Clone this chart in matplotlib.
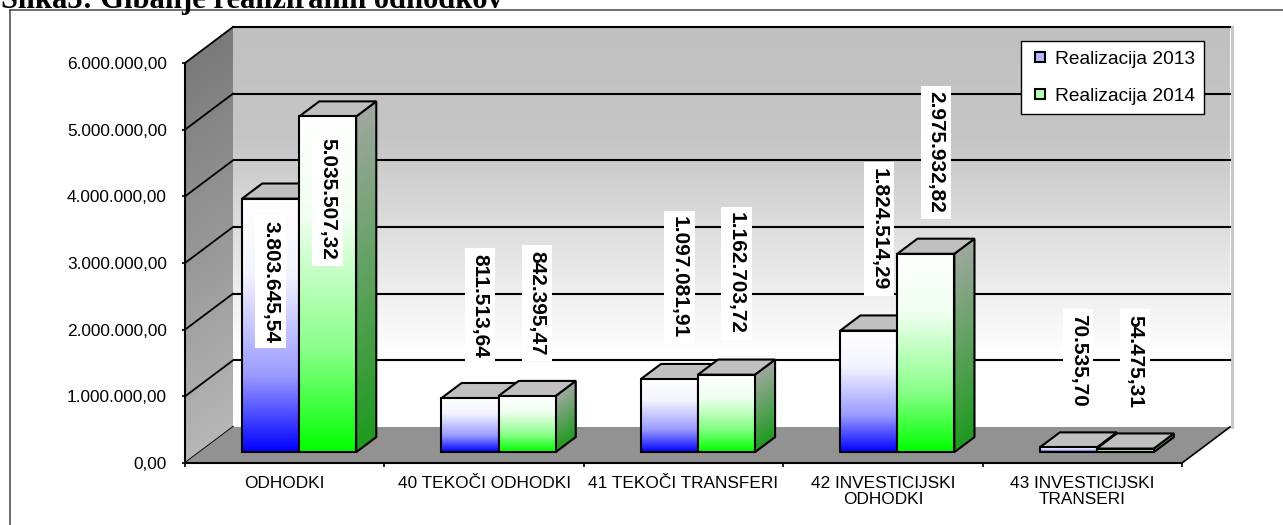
import matplotlib
matplotlib.use('Agg')
import matplotlib.pyplot as plt
import matplotlib.transforms as mtransforms
from matplotlib.patches import Polygon
from matplotlib.lines import Line2D
from matplotlib.colors import LinearSegmentedColormap
from matplotlib.ticker import FuncFormatter
import numpy as np

categories = ['ODHODKI', '40 TEKOČI ODHODKI', '41 TEKOČI TRANSFERI',
              '42 INVESTICIJSKI\nODHODKI', '43 INVESTICIJSKI\nTRANSERI']
real_2013 = [3803645.54, 811513.64, 1097081.91, 1824514.29, 70535.70]
real_2014 = [5035507.32, 842395.47, 1162703.72, 2975932.82, 54475.31]
series_names = ['Realizacija 2013', 'Realizacija 2014']
y_ticks = [0, 1000000, 2000000, 3000000, 4000000, 5000000, 6000000]

W, H = 1283, 525
DX, DY = 48, 36          # depth of the 3d box, pixels
BW = 0.286               # bar width, category units
D_FRONT, D_BACK = 0.3, 0.72

plt.rcParams['font.family'] = 'Liberation Sans'

fig = plt.figure(figsize=(W / 100, H / 100), dpi=100)
ax = fig.add_axes([185 / W, 62 / H, 997 / W, 400 / H])
ax.set_xlim(-0.5, 4.5)
ax.set_ylim(0, 6000000)
ax.patch.set_visible(False)
ident = mtransforms.IdentityTransform()


def pt(x, v, d):
    px, py = ax.transData.transform((x, v))
    return np.array([px + DX * d, py + DY * d])


def sl_num(v):
    s = f'{v:,.2f}'
    return s.replace(',', ' ').replace('.', ',').replace(' ', '.')


def face(p0, p1, p3, colors, z, edge=True):
    # gradient image mapped onto the parallelogram p0-p1-(p1+p3-p0)-p3
    cmap = LinearSegmentedColormap.from_list('f', colors)
    grad = np.linspace(0, 1, 256).reshape(-1, 1)
    e1 = p1 - p0
    e2 = p3 - p0
    tr = mtransforms.Affine2D(np.array([[e1[0], e2[0], p0[0]],
                                        [e1[1], e2[1], p0[1]],
                                        [0, 0, 1]]))
    ax.imshow(grad, cmap=cmap, extent=(0, 1, 0, 1), origin='lower', aspect='auto',
              interpolation='bilinear', transform=tr, clip_on=False, zorder=z)
    if edge:
        ax.add_patch(Polygon([p0, p1, p1 + e2, p3], closed=True, fill=False, ec='black',
                             lw=1.5, transform=ident, clip_on=False, zorder=z + 0.01))


def line(a, b, z, color='black', lw=1.5):
    ax.add_line(Line2D([a[0], b[0]], [a[1], b[1]], color=color, lw=lw,
                       transform=ident, clip_on=False, zorder=z))


def draw_box():
    top = y_ticks[-1]
    # back wall
    face(pt(-0.5, 0, 1), pt(4.5, 0, 1), pt(-0.5, top, 1),
         [(0, '#ffffff'), (0.18, '#ffffff'), (0.72, '#c6c6c6'), (1, '#c0c0c0')], 0.5, edge=False)
    # side wall
    face(pt(-0.5, 0, 0), pt(-0.5, 0, 1), pt(-0.5, top, 0),
         [(0, '#b6b6b6'), (1, '#7a7a7a')], 0.7, edge=False)
    # floor
    ax.add_patch(Polygon([pt(-0.5, 0, 0), pt(4.5, 0, 0), pt(4.5, 0, 1), pt(-0.5, 0, 1)],
                         closed=True, fc='#929292', ec='none', transform=ident,
                         clip_on=False, zorder=0.9))
    line(pt(4.5, 0, 0), pt(4.5, 0, 1), 0.95, lw=1.2)
    # thin edge of the back wall on the right
    line(pt(4.5, 0, 1) + [1.5, 0], pt(4.5, top, 1) + [1.5, 0], 0.55, color='#c8c8c8', lw=2.2)
    # gridlines on walls
    for v in y_ticks:
        a, b, c = pt(-0.5, v, 0), pt(-0.5, v, 1), pt(4.5, v, 1)
        line(a, b, 0.8, lw=1.3)
        if v > 0:
            line(b, c, 0.6)


def draw_bars():
    fronts = [[(0, '#0000ff'), (0.3, '#9a9aff'), (0.7, '#f4f4ff'), (1, '#ffffff')],
              [(0, '#00ff00'), (0.3, '#88ff88'), (0.7, '#f0fff0'), (1, '#ffffff')]]
    sides = [[(0, '#1a1aa0'), (1, '#a0a0a8')],
             [(0, '#1e9a1e'), (1, '#a0a8a0')]]
    renderer = fig.canvas.get_renderer()
    top_limit = ax.transData.transform((0, y_ticks[-1]))[1]
    for i in range(len(categories)):
        for s, vals in enumerate([real_2013, real_2014]):
            v = vals[i]
            x0 = i - BW + s * BW
            x1 = x0 + BW
            z = 3 + 2 * i + s
            face(pt(x1, 0, D_FRONT), pt(x1, 0, D_BACK), pt(x1, v, D_FRONT), sides[s], z)
            ax.add_patch(Polygon([pt(x0, v, D_FRONT), pt(x1, v, D_FRONT),
                                  pt(x1, v, D_BACK), pt(x0, v, D_BACK)],
                                 closed=True, fc='#c0c0c0', ec='black', lw=1.5,
                                 transform=ident, clip_on=False, zorder=z + 0.1))
            face(pt(x0, 0, D_FRONT), pt(x1, 0, D_FRONT), pt(x0, v, D_FRONT), fronts[s], z + 0.2)

            # value label, above the bar if it fits, otherwise inside
            xc = (x0 + x1) / 2
            kw = dict(xycoords=ident, textcoords='offset pixels', rotation=-90,
                      ha='center', fontsize=15, fontweight='bold', zorder=30,
                      annotation_clip=False,
                      bbox=dict(boxstyle='square,pad=0.27', fc='white', ec='none'))
            t = ax.annotate(sl_num(v), xy=pt(xc, v, (D_FRONT + D_BACK) / 2),
                            xytext=(0, 33), va='bottom', **kw)
            if t.get_window_extent(renderer).y1 > top_limit:
                t.remove()
                ax.annotate(sl_num(v), xy=pt(xc, v, D_FRONT), xytext=(0, -22), va='top', **kw)


def style_axes():
    for side in ['top', 'right']:
        ax.spines[side].set_visible(False)
    for side in ['left', 'bottom']:
        ax.spines[side].set_linewidth(1.5)
        ax.spines[side].set_color('black')
    ax.set_yticks(y_ticks)
    ax.yaxis.set_major_formatter(FuncFormatter(lambda v, p: sl_num(v)))
    ax.tick_params(axis='y', length=2.5, width=1.2, pad=10.5, labelsize=12.4)
    ax.set_xticks(range(len(categories)))
    ax.set_xticklabels(categories)
    ax.set_xticks(np.arange(-0.5, len(categories), 1), minor=True)
    ax.tick_params(axis='x', which='major', length=0, pad=9, labelsize=12.4)
    ax.tick_params(axis='x', which='minor', length=3, width=1.2)
    for lab in ax.get_xticklabels():
        lab.set_linespacing(1.1)

    handles = [Line2D([], [], ls='none', marker='s', ms=7, mfc='#b8b8ff', mec='black', mew=1.5),
               Line2D([], [], ls='none', marker='s', ms=7, mfc='#b4ffb4', mec='black', mew=1.5)]
    leg = ax.legend(handles, series_names, loc='upper left', bbox_to_anchor=(1021 / W, 1 - 41 / H),
                    bbox_transform=fig.transFigure, frameon=True, fancybox=False, framealpha=1,
                    edgecolor='black', borderpad=0.5, labelspacing=1.0, handlelength=1.0,
                    handletextpad=0.25, borderaxespad=0, prop={'size': 13.8})
    leg.get_frame().set_linewidth(1.0)
    leg.set_zorder(40)


def main():
    draw_box()
    draw_bars()
    style_axes()
    ax.set_xlim(-0.5, 4.5)
    ax.set_ylim(0, 6000000)

    # outer frame and (cut off) caption
    fig.add_artist(Line2D([10 / W, 10 / W], [0, 1 - 10 / H], color='#555555', lw=1.2,
                          transform=fig.transFigure))
    fig.add_artist(Line2D([10 / W, 1], [1 - 10 / H, 1 - 10 / H], color='#555555', lw=1.2,
                          transform=fig.transFigure))
    fig.text(1 / W, 1 - 8 / H, 'Slika3: Gibanje realiziranih odhodkov', family='Liberation Serif',
             fontweight='bold', fontsize=22, va='baseline', ha='left')

    fig.savefig('out.png', dpi=100)


if __name__ == "__main__":
    main()
